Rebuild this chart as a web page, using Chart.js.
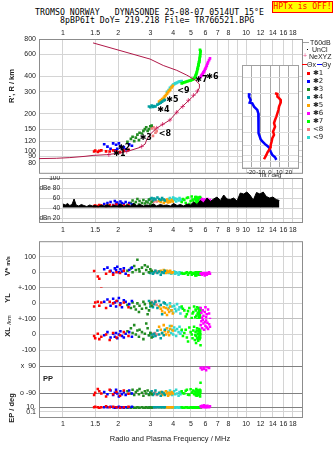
<!DOCTYPE html>
<html>
<head>
<meta charset="utf-8">
<script src="https://cdn.jsdelivr.net/npm/chart.js@4.4.0/dist/chart.umd.min.js"></script>
<style>
body{margin:0;background:#fff;width:335px;height:451px;overflow:hidden;position:relative;font-family:'Liberation Sans',Arial,sans-serif;color:#222}
canvas{position:absolute}
.t{position:absolute;white-space:pre;line-height:1}
.mono{font-family:'DejaVu Sans Mono',monospace;font-size:8.2px;color:#000;letter-spacing:0.05px}
.rot{transform:translate(-50%,-50%) rotate(-90deg)}
.lab{font-size:7.5px;font-weight:bold;color:#222}
.lg{font-size:7px;color:#222}
</style>
</head>
<body>
<div class="t mono" style="left:35px;top:8px">TROMSO NORWAY   DYNASONDE 25-08-07 0514UT 15°E</div>
<div class="t mono" style="left:60px;top:16px">8pBP6It DoY= 219.218 File= TR766521.BPG</div>
<div class="t mono" style="left:272px;top:1px;width:59px;height:10px;background:#ff0;border:1px solid #f00;color:#f00;text-align:center;line-height:10px;font-size:8px">HPTx is OFF!</div>

<canvas id="cH" width="306" height="154" style="left:0;top:26px"></canvas>
<canvas id="cD" width="306" height="60" style="left:0;top:176px"></canvas>
<canvas id="cL" width="306" height="197" style="left:0;top:234px"></canvas>
<canvas id="cT" width="60" height="116" style="left:240px;top:63px"></canvas>

<div class="t lab rot" style="left:12px;top:86px">R', R / km</div>
<div class="t lab rot" style="left:8px;top:266px">V* <span style="font-size:5.5px">m/s</span></div>
<div class="t lab rot" style="left:8px;top:298px">YL</div>
<div class="t lab rot" style="left:9px;top:320px;font-size:6px;font-weight:normal">/km</div>
<div class="t lab rot" style="left:8px;top:332px">XL</div>
<div class="t lab" style="left:43px;top:375px">PP</div>
<div class="t lab rot" style="left:12px;top:408px">EP / deg</div>
<div class="t" style="left:170px;top:435px;transform:translateX(-50%);font-size:7.5px;color:#222">Radio and Plasma Frequency / MHz</div>
<div id="legend"></div>

<script>
// frequency and height axes
const freqTicks = [1, 1.5, 2, 3, 4, 5, 6, 7, 8, 9, 10, 12, 14, 16, 18];
const heightTicks = [80, 90, 100, 120, 150, 200, 300, 400, 600, 800];
const dbTicks = [20, 40, 60, 80, 100];
const dbTickLabels = ['dBn 20', '40', '60', 'dBe 80', '100'];
const tiltTicks = [-20, -10, 0, 10, 20];

// echo modes
const modeLabels = ['\u27311', '\u27312', '\u27313', '\u27314', '\u27315', '\u27316', '\u27317', '<8', '<9'];
const modeColors = ['#ff0000', '#0000ff', '#228b22', '#00a0a0', '#ffa500', '#ff00ff', '#00ff00', '#f08080', '#30d8d0'];

const echoFreq = [
  [1.48,1.5,1.55,1.58,1.62,1.72,1.8,1.88,1.96,2.05,2.15,2.28],
  [1.68,1.75,1.82,1.88,1.92,1.95,1.98,2.02,2.06,2.1,2.15,2.2,2.3,2.38],
  [2.25,2.35,2.4,2.45,2.5,2.55,2.6,2.62,2.7,2.75,2.8,2.85,2.9,2.95,3.0,3.05],
  [2.95,3.0,3.05,3.1,3.15,3.2,3.28,3.35,3.42,3.48,3.55,3.6],
  [3.35,3.42,3.48,3.55,3.6,3.65,3.7,3.75,3.8,3.85,3.92,3.98],
  [5.65,5.7,5.75,5.8,5.85,5.9,5.95,6.0,6.05,6.1,6.15,6.2,6.28,6.35],
  [4.45,4.6,4.75,4.9,5.05,5.15,5.25,5.3,5.35,5.4,5.42,5.45,5.48,5.5,5.52,5.55,5.57,5.58,5.6,5.61,5.62,5.63,5.64,5.6,
   4.52,4.68,4.82,4.98,5.1,5.2,5.28,5.33,5.38,5.45,5.5,5.55],
  [3.05,3.1,3.12,3.18,3.2,3.25],
  [3.7,3.78,3.84,3.9,3.95,4.0,4.05,4.1,4.15,4.2,4.28,4.33,4.38,4.45]
];
const echoHeight = [
  [98.8,100.5,98,100,101,99,98.8,101,99,97.5,100.5,101.8],
  [113,108,104,115,101,112,104,115,109,105,107,103,113,110],
  [118,125,130,120,128,135,122,140,138,145,150,155,145,150,158,160],
  [228,225,232,226,230,228,236,240,245,250,255,258],
  [250,256,262,268,275,282,290,298,305,312,325,335],
  [395,405,412,420,430,438,450,462,475,488,505,520,540,558],
  [350,357,363,368,374,380,390,405,420,440,455,470,485,500,515,530,545,560,575,590,610,625,640,655,
   354,360,366,371,377,385,398,412,430,462,492,522],
  [152,132,155,150,140,144],
  [300,310,322,328,335,342,345,350,352,356,360,362,364,366]
];
const echoAmp = [
  [44,45,44,46,45,44,46,45,47,44,45,46],
  [48,50,52,46,54,49,51,47,53,50,48,52,50,47],
  [46,50,55,48,52,58,47,54,50,56,49,53,51,57,48,52],
  [56,58,60,55,59,57,61,58,56,60,57,55],
  [54,52,56,50,55,53,57,51,54,52,56,53],
  [55,52,58,50,56,53,57,51,55,52,58,54,50,56],
  [52,56,60,48,63,55,58,50,62,57,53,60,49,61,56,54,59,47,62,55,58,51,60,53,
   58,50,61,54,57,49,62,55,52,59,56,50],
  [54,56,52,57,55,53],
  [55,58,60,54,57,61,56,59,53,58,55,60,57,54]
];
const echoVstar = [
  [8,-119,-27,-42,-104,-10,5,-15,0,-5,10,-20],
  [20,30,10,-5,25,15,35,0,20,5,25,-10,15,30],
  [10,25,0,40,15,80,20,5,30,-10,45,15,35,0,20,10],
  [0,-5,5,-10,0,10,-5,5,-15,0,-5,10],
  [5,10,0,15,5,-5,10,0,5,10,-5,0],
  [-10,-5,-15,-10,-5,-10,-20,-5,-10,-15,-5,-10,0,-10],
  [-5,-10,0,-5,-15,-5,-10,0,-20,-5,-10,-5,0,-15,-10,-5,-10,0,-5,-15,-10,-5,0,-10,
   -10,-5,-15,0,-5,-10,-20,-5,0,-10,-5,-15],
  [5,0,-5,10,0,5],
  [0,-5,5,-10,0,-5,5,-10,0,-5,-15,0,-10,-5]
];
const echoYL = [
  [-20,5,10,-15,5,-30,10,0,15,-10,5,-25],
  [10,25,-15,30,5,-20,15,35,0,-25,20,10,-5,15],
  [-10,-30,5,-20,-40,0,-55,-15,-35,10,-5,-30,-70,-45,0,-15],
  [15,-20,5,-25,-5,10,-30,15,-10,-70,5,0],
  [-20,-35,-50,-25,-60,-30,-75,-40,-55,-20,-45,-65],
  [-30,-60,-95,-45,-80,-110,-55,-25,-90,-70,-120,-40,-65,-100],
  [-20,-45,-70,-30,-95,-55,-110,-40,-80,-25,-100,-60,-120,-35,-85,-50,-105,-70,-30,-90,-60,-115,-45,-75,
   -35,-85,-50,-105,-65,-20,-90,-45,-110,-70,-30,-95],
  [10,-5,0,15,5,-10],
  [-10,-30,0,-45,-20,-60,-15,-35,-50,-5,-40,-25,-65,-30]
];
const echoXL = [
  [-10,-25,5,-30,-15,0,-35,10,-20,-5,15,-10],
  [-5,15,-20,5,-15,10,-25,0,20,-10,-20,5,15,-15],
  [20,40,10,60,0,25,-15,30,15,-30,5,70,40,-5,10,-20],
  [-5,10,0,-15,5,-10,25,0,-25,10,-5,30],
  [50,30,10,60,20,0,40,15,-5,35,55,25],
  [60,85,40,95,70,30,80,55,90,45,75,35,65,50],
  [30,10,-20,45,0,25,-35,15,-10,40,-25,5,-40,20,-15,35,-5,-30,10,25,-20,0,-70,15,
   -10,30,-45,15,-25,50,-5,-55,25,-30,5,-15],
  [5,-10,0,10,-5,0],
  [40,20,55,10,30,0,45,25,-10,35,15,50,5,20]
];
const echoPol = [
  [-100,-85,-60,-75,-90,-110,-65,-95,-80,-105,-70,-92],
  [-80,-95,-70,-100,-85,-65,-90,-110,-75,-95,-80,-100,-70,-90],
  [-75,-90,-65,-100,-80,-70,-95,-60,-85,-105,-75,-90,-70,-100,-85,-95],
  [-95,-85,-75,-100,-90,-70,-95,-85,-105,-80,-90,-100],
  [-90,-80,-100,-85,-95,-75,-90,-105,-85,-95,-80,-90],
  [80,95,70,100,85,75,105,90,65,110,85,95,80,100],
  [-75,-90,-65,-100,-85,-70,-95,-80,-60,-105,-90,-75,-85,-100,-70,-90,-95,-65,-80,-110,-85,-70,-18,-95,
   -88,-72,-98,-62,-82,-93,-77,-103,-68,-87,-97,-73],
  [-85,-90,-95,-80,-90,-100],
  [-80,-95,-70,-90,-100,-85,-75,-95,-65,-90,-105,-80,-95,-85]
];
const echoEP = [
  [10,11,10,9,10,12,10,11,10,9,10,11],
  [10,10,11,10,9,10,10,11,10,10,9,10,10,11],
  [9,9,10,9,9,10,9,9,10,9,9,10,9,9,10,9],
  [10,10,10,10,10,10,10,10,10,10,10,10],
  [10,10,10,10,10,10,10,10,10,10,10,10],
  [12,10,13,11,10,14,11,10,12,10,13,11,10,12],
  [10,9,10,9,10,9,10,9,10,9,10,9,10,9,10,9,10,9,10,9,10,9,10,9,
   9,10,9,10,9,10,9,10,9,10,9,10],
  [10,10,10,10,10,10],
  [10,9,10,10,9,10,10,9,10,10,9,10,10,9]
];

// mode label positions (MHz, km)
const labelF = [1.93, 2.05, 2.69, 3.36, 3.76, 6.22, 5.42, 3.42, 4.32];
const labelH = [95, 106, 127.6, 214, 256, 397, 374, 137, 307];

// real height profile
const profF = [0.74,0.92,1.09,1.32,1.46,1.73,2.05,2.32,2.64,2.81,2.87,2.99,3.25,3.84,4.27,4.64,5.05,5.38,5.56,5.56,5.27,4.74,4.18,3.53,2.99,1.46];
const profH = [86.6,87.1,88.2,90.3,91.9,93.1,96,100.5,106.7,113.4,124,135.6,152.7,177.5,212.3,238.9,269.4,294.6,322.3,346,374,409,447,489,551,744];
const neF = [1.78,2.23,2.69,3.25,3.5,3.84,4.18,4.51,4.84,5.16,5.42];
const neH = [93,99,108.6,152.7,164,177.5,205,228,256,281,304];

// T60dB noise
const t60Freq = [1.0,1.03,1.06,1.09,1.12,1.15,1.18,1.22,1.26,1.3,
  1.35,1.4,1.45,1.5,1.56,1.62,1.68,1.75,1.82,1.9,
  1.98,2.06,2.15,2.24,2.33,2.43,2.53,2.64,2.75,2.87,
  3.0,3.12,3.25,3.4,3.55,3.7,3.86,4.02,4.2,4.38,
  4.57,4.76,4.96,5.17,5.4,5.63,5.87,6.12,6.38,6.65,
  6.94,7.24,7.55,7.87,8.2,8.55,8.92,9.3,9.7,10.1,
  10.5,10.95,11.4,11.9,12.4,12.9,13.45,14.0,14.6,15.2];
const t60dB = [48,46,49,45,47,58,46,44,47,45,
  43,46,44,45,43,46,44,47,43,45,
  44,48,43,46,44,49,45,47,44,46,
  45,48,44,47,45,46,44,49,45,47,
  44,48,46,52,47,55,50,60,53,58,
  62,55,66,58,57,60,54,70,68,72,
  66,56,71,68,72,63,60,62,57,55];

// tilt inset
const thetaYTilt = [-21.8,-22.5,-20.7,-21.8,-19,-17.1,-15.3,-13.6,-12.5,-12.5,-12.5,-11.8,-11,-10,-8.2,-5.3,-2.8,-1,0.7,2.5,5.4,6.8];
const thetaYH = [304,286,269,257,254,239,232,225,212,188,167,148,140,133,128,122,118,115,107,100.5,96.5,92];
const thetaXTilt = [5.4,7.9,7.9,9.7,11.5,11.5,9.7,9.0,7.9,6.8,5.4,4.3,5.4,3.3,4.3,2.5,1.8,0.7,0.7,-1,-2.8,-3.9,-5.3,-6.4];
const thetaXH = [304,300,286,278,269,257,239,225,212,200,188,178,167,153,144,136,128,120,115,110,105,100.5,96.5,93];

Chart.defaults.font.family = 'Liberation Sans';
const pts = (xs, ys) => xs.map((x, i) => ({x: x, y: ys[i]}));
const tickFont = {family: 'Liberation Sans', size: 7};
const gridCol = '#d4d4d4';

const framePlugin = {
  id: 'frame',
  beforeDraw(chart, args, opts) {
    const a = chart.chartArea, c = chart.ctx;
    c.save();
    c.fillStyle = '#fff';
    if (opts.fill) c.fillRect(a.left, a.top, a.right - a.left, a.bottom - a.top);
    c.restore();
  },
  beforeDatasetsDraw(chart, args, opts) {
    const a = chart.chartArea, c = chart.ctx;
    c.save();
    c.strokeStyle = opts.color || '#8c8c8c';
    c.lineWidth = 1;
    c.strokeRect(a.left + 0.5, a.top + 0.5, a.right - a.left, a.bottom - a.top);
    c.restore();
  }
};

function freqAxis(pos, showNine, pad) {
  return {
    type: 'logarithmic', position: pos, min: 0.74, max: 20.2, bounds: 'data',
    afterBuildTicks: s => { s.ticks = freqTicks.map(v => ({value: v})); },
    afterFit: s => { s.height = pos === 'top' ? 13 : 14; },
    ticks: {autoSkip: false, maxRotation: 0, minRotation: 0, padding: pad, color: '#222', font: tickFont,
      callback: v => (v === 9 && !showNine) ? '' : String(v)},
    grid: {color: gridCol, drawTicks: false},
    border: {display: false}
  };
}

const baseOpts = {
  responsive: false, animation: false, devicePixelRatio: 1, events: [],
  plugins: {legend: {display: false}, tooltip: {enabled: false}}
};

// ---- height panel
const modeLabelPlugin = {
  id: 'modeLabels',
  afterDatasetsDraw(chart) {
    const c = chart.ctx, xs = chart.scales.x, ys = chart.scales.y;
    c.save();
    c.fillStyle = '#000';
    c.font = 'bold 8px "DejaVu Sans"';
    c.textBaseline = 'middle';
    labelF.forEach((f, i) => c.fillText(modeLabels[i], xs.getPixelForValue(f) - 2, ys.getPixelForValue(labelH[i])));
    c.restore();
  }
};

const hSets = [{
  type: 'line', data: pts(profF, profH), borderColor: '#b01848', borderWidth: 1,
  pointRadius: 0, tension: 0, fill: false
}];
modeColors.forEach((col, m) => hSets.push({
  data: pts(echoFreq[m], echoHeight[m]), backgroundColor: col, borderWidth: 0,
  pointStyle: 'rect', pointRadius: 1.9
}));
hSets.push({
  data: pts(neF, neH), borderColor: '#e8508a', backgroundColor: '#e8508a', borderWidth: 1,
  pointStyle: 'cross', pointRadius: 2.2
});

new Chart(document.getElementById('cH'), {
  type: 'scatter',
  data: {datasets: hSets},
  plugins: [framePlugin, modeLabelPlugin],
  options: Object.assign({}, baseOpts, {
    layout: {padding: {top: 0, right: 4, bottom: 2, left: 0}, autoPadding: false},
    scales: {
      x: freqAxis('top', false, 2),
      y: {
        type: 'logarithmic', position: 'left', min: 66.5, max: 800, bounds: 'data',
        afterBuildTicks: s => { s.ticks = heightTicks.map(v => ({value: v})); },
        afterFit: s => { s.width = 39; },
        ticks: {autoSkip: false, padding: 3, color: '#222', font: tickFont, callback: v => String(v)},
        grid: {color: gridCol, drawTicks: false},
        border: {display: false}
      }
    }
  })
});

// ---- amplitude panel
const dbLabelPlugin = {
  id: 'dbLabels',
  afterDraw(chart) {
    const c = chart.ctx, ys = chart.scales.y;
    c.save();
    c.fillStyle = '#222';
    c.font = '6.5px "Liberation Sans"';
    c.textAlign = 'right';
    c.textBaseline = 'middle';
    dbTicks.forEach((v, i) => c.fillText(dbTickLabels[i], 60, ys.getPixelForValue(v)));
    c.restore();
  }
};
const dSets = [{
  type: 'line', data: pts(t60Freq, t60dB), borderColor: '#000', backgroundColor: '#000',
  borderWidth: 1, pointRadius: 0, tension: 0, fill: {value: 41}
}];
modeColors.forEach((col, m) => dSets.push({
  data: pts(echoFreq[m], echoAmp[m]), backgroundColor: col, borderWidth: 0,
  pointStyle: 'rect', pointRadius: 1.8
}));

new Chart(document.getElementById('cD'), {
  type: 'scatter',
  data: {datasets: dSets},
  plugins: [framePlugin, dbLabelPlugin],
  options: Object.assign({}, baseOpts, {
    layout: {padding: {top: 2, right: 4, bottom: 0, left: 0}, autoPadding: false},
    scales: {
      x: freqAxis('bottom', true, 4),
      y: {
        type: 'linear', position: 'left', min: 12, max: 100, bounds: 'data',
        afterBuildTicks: s => { s.ticks = dbTicks.map(v => ({value: v})); },
        afterFit: s => { s.width = 39; },
        ticks: {display: false},
        grid: {color: gridCol, drawTicks: false},
        border: {display: false}
      }
    }
  })
});

// ---- lower panels (V*, YL, XL, PP, EP)
function panelAxis(min, max, w, sw, tickVals, tickLabels, lineColors) {
  return {
    type: 'linear', position: 'left', stack: 'lower', stackWeight: sw, weight: w,
    min: min, max: max, bounds: 'data',
    afterBuildTicks: s => { s.ticks = tickVals.map(v => ({value: v})); },
    afterFit: s => { s.width = 39; },
    ticks: {autoSkip: false, padding: 3, color: '#222', font: tickFont, callback: (v, i) => tickLabels[i]},
    grid: {drawTicks: false, color: c => lineColors[c.index] || gridCol},
    border: {display: false}
  };
}
const lSets = [];
const panels = [['yV', echoVstar], ['yY', echoYL], ['yX', echoXL], ['yP', echoPol], ['yE', echoEP]];
modeColors.forEach((col, m) => {
  panels.forEach(p => lSets.push({
    yAxisID: p[0], data: pts(echoFreq[m], p[1][m]), backgroundColor: col, borderWidth: 0,
    pointStyle: 'rect', pointRadius: 1.8
  }));
});

new Chart(document.getElementById('cL'), {
  type: 'scatter',
  data: {datasets: lSets},
  plugins: [framePlugin],
  options: Object.assign({}, baseOpts, {
    layout: {padding: {top: 2, right: 4, bottom: 0, left: 0}, autoPadding: false},
    scales: {
      x: freqAxis('bottom', false, 3),
      yV: panelAxis(-100, 200, 5, 48, [100, 0, -100], ['100', '0', '+-100'], [gridCol, gridCol, '#c0c0c0']),
      yY: panelAxis(-100, 100, 4, 32, [0, -100], ['0', '+-100'], [gridCol, '#c0c0c0']),
      yX: panelAxis(-206, 100, 3, 49, [0, -100], ['0', '-100'], [gridCol, gridCol]),
      yP: panelAxis(-137, 90, 2, 35, [90, -90], ['x  90', 'o -90'], ['#808080', '#808080']),
      yE: panelAxis(-11, 24.5, 1, 17, [10, 0.1], ['10.', '0.1'], ['#808080', gridCol])
    }
  })
});

// ---- tilt inset
new Chart(document.getElementById('cT'), {
  type: 'scatter',
  data: {datasets: [
    {type: 'line', data: pts(thetaXTilt, thetaXH), borderColor: '#ff0000', borderWidth: 2.5, pointRadius: 0, tension: 0, fill: false},
    {type: 'line', data: pts(thetaYTilt, thetaYH), borderColor: '#0000ff', borderWidth: 2.5, pointRadius: 0, tension: 0, fill: false}
  ]},
  plugins: [framePlugin],
  options: Object.assign({}, baseOpts, {
    layout: {padding: {top: 2, right: 2, bottom: 0, left: 2}, autoPadding: false},
    plugins: {legend: {display: false}, tooltip: {enabled: false}, frame: {fill: true, color: '#a0a0a0'}},
    scales: {
      x: {
        type: 'linear', position: 'bottom', min: -30, max: 30, bounds: 'data',
        afterBuildTicks: s => { s.ticks = tiltTicks.map(v => ({value: v})); },
        afterFit: s => { s.height = 11; },
        ticks: {autoSkip: false, maxRotation: 0, padding: 1, color: '#222', font: {family: 'Liberation Sans', size: 6}},
        title: {display: true, text: 'Tilt / deg', padding: 0, color: '#222', font: {family: 'Liberation Sans', size: 6}},
        grid: {color: '#a8a8a8', drawTicks: false},
        border: {display: false}
      },
      y: {
        type: 'logarithmic', position: 'left', min: 79.6, max: 504, bounds: 'data',
        afterBuildTicks: s => { s.ticks = heightTicks.filter(v => v <= 500).map(v => ({value: v})); },
        afterFit: s => { s.width = 0; },
        ticks: {display: false},
        grid: {color: '#dcdcdc', drawTicks: false},
        border: {display: false}
      }
    }
  })
});

// ---- legend
const lg = document.getElementById('legend');
function add(html, left, top, style) {
  const d = document.createElement('div');
  d.className = 't lg';
  d.style.left = left + 'px';
  d.style.top = top + 'px';
  if (style) d.style.cssText += style;
  d.innerHTML = html;
  lg.appendChild(d);
}
add('', 303, 42, 'width:6px;height:1px;background:#a0a0a0');
add('T60dB', 310, 38.5);
add('', 307, 49, 'width:1px;height:1px;background:#000');
add('UnCl', 312, 45.5);
add('+', 303, 52, 'color:#e8508a');
add('NeXYZ', 309, 52.5);
add('', 302, 64, 'width:5px;height:1px;background:#ff0000');
add('\u0398x', 307, 60.5);
add('', 317, 64, 'width:5px;height:1px;background:#0000ff');
add('\u0398y', 322, 60.5);
modeLabels.forEach((t, i) => {
  const y = 73.3 + i * 8.05;
  add('', 307, y - 1.5, 'width:3px;height:3px;background:' + modeColors[i]);
  add(t, 313, y - 3.8, 'font-family:"DejaVu Sans";font-size:7px');
});
</script>
</body>
</html>
